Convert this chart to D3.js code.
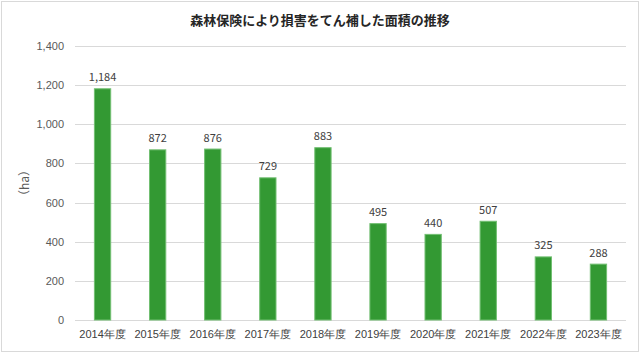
<!DOCTYPE html>
<html>
<head>
<meta charset="utf-8">
<script src="https://cdn.jsdelivr.net/npm/d3@7"></script>
<style>
  body { margin: 0; background: #fff; }
  svg { display: block; font-family: "Noto Sans CJK JP", "Noto Sans", sans-serif; }
</style>
</head>
<body>
<div id="chart"></div>
<script>
const years = ["2014年度", "2015年度", "2016年度", "2017年度", "2018年度",
  "2019年度", "2020年度", "2021年度", "2022年度", "2023年度"];
const areas = [1184, 872, 876, 729, 883, 495, 440, 507, 325, 288];
const yTicks = [0, 200, 400, 600, 800, 1000, 1200, 1400];
const title = "森林保険により損害をてん補した面積の推移";
const unit = "（ha）";

const width = 640;
const height = 354;
const margin = { top: 46, right: 14, bottom: 34, left: 75 };

const svg = d3.select("#chart").append("svg")
  .attr("width", width)
  .attr("height", height);

svg.append("rect")
  .attr("x", 1.5).attr("y", 1.5)
  .attr("width", width - 3).attr("height", height - 4)
  .attr("fill", "#fff")
  .attr("stroke", "#d9d9d9");

const x = d3.scaleBand()
  .domain(years)
  .range([margin.left, width - margin.right])
  .paddingInner(0.686)
  .paddingOuter(0.343);

const y = d3.scaleLinear()
  .domain([0, 1400])
  .range([height - margin.bottom, margin.top]);

// gridlines
svg.append("g")
  .selectAll("line")
  .data(yTicks)
  .join("line")
  .attr("x1", margin.left)
  .attr("x2", width - margin.right)
  .attr("y1", d => Math.round(y(d)) + 0.5)
  .attr("y2", d => Math.round(y(d)) + 0.5)
  .attr("stroke", "#d9d9d9");

// y axis labels
const yAxis = svg.append("g")
  .attr("transform", `translate(${margin.left},0)`)
  .call(d3.axisLeft(y).tickValues(yTicks).tickFormat(d3.format(",")).tickSize(0).tickPadding(11));
yAxis.select(".domain").remove();
yAxis.selectAll("text")
  .attr("fill", "#595959")
  .style("font-size", "11px");

// x axis
const xAxis = svg.append("g")
  .attr("transform", `translate(0,${height - margin.bottom})`)
  .call(d3.axisBottom(x).tickSize(0).tickPadding(10));
xAxis.select(".domain").remove();
xAxis.selectAll("text")
  .attr("fill", "#404040")
  .style("font-size", "11px");

// bars
svg.append("g")
  .selectAll("rect")
  .data(years)
  .join("rect")
  .attr("x", d => x(d) + 0.5)
  .attr("width", x.bandwidth() - 1)
  .attr("y", (d, i) => y(areas[i]) + 0.5)
  .attr("height", (d, i) => y(0) - y(areas[i]) - 0.5)
  .attr("fill", "#339933")
  .attr("stroke", "#72bf72")
  .attr("stroke-width", 1);

// value labels
svg.append("g")
  .selectAll("text")
  .data(years)
  .join("text")
  .attr("x", d => x(d) + x.bandwidth() / 2)
  .attr("y", (d, i) => y(areas[i]) - 7)
  .attr("text-anchor", "middle")
  .attr("fill", "#404040")
  .style("font-size", "11px")
  .text((d, i) => d3.format(",")(areas[i]));

// title
svg.append("text")
  .attr("x", width / 2)
  .attr("y", 25)
  .attr("text-anchor", "middle")
  .attr("fill", "#262626")
  .style("font-size", "13px")
  .style("font-weight", "bold")
  .text(title);

// unit label
svg.append("text")
  .attr("transform", `translate(29,${(margin.top + height - margin.bottom) / 2}) rotate(-90)`)
  .attr("text-anchor", "middle")
  .attr("fill", "#595959")
  .style("font-size", "12px")
  .text(unit);
</script>
</body>
</html>
